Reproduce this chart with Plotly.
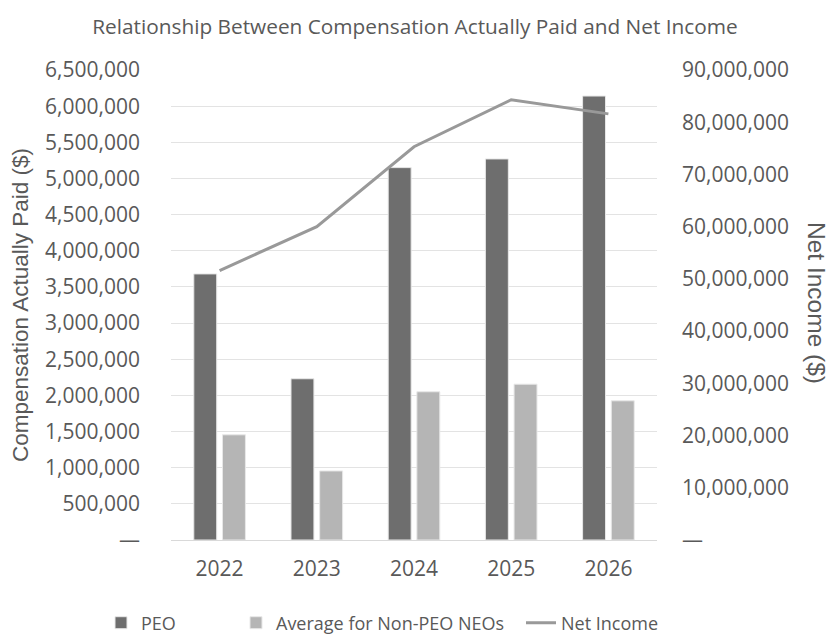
import plotly.graph_objects as go

years = ["2022", "2023", "2024", "2025", "2026"]
peo_cap = [3680000, 2230000, 5150000, 5270000, 6140000]
non_peo_cap = [1455000, 955000, 2050000, 2155000, 1925000]
net_income = [51600000, 60000000, 75300000, 84300000, 81600000]

left_ticks = list(range(0, 6500001, 500000))
left_text = ["—" if v == 0 else f"{v:,}" for v in left_ticks]
right_ticks = list(range(0, 90000001, 10000000))
right_text = ["—" if v == 0 else f"{v:,}" for v in right_ticks]

GREY = "#595959"
tick_font = dict(family="Open Sans", size=21, color=GREY)
legend_font = dict(family="Open Sans", size=18, color=GREY)

fig = go.Figure()
fig.add_trace(go.Bar(x=years, y=peo_cap, name="PEO", legend="legend",
                     marker=dict(color="#6e6e6e", line=dict(color="#e8e8e8", width=1))))
fig.add_trace(go.Bar(x=years, y=non_peo_cap, name="Average for Non-PEO NEOs", legend="legend2",
                     marker=dict(color="#b5b5b5", line=dict(color="#e8e8e8", width=1))))
fig.add_trace(go.Scatter(x=years, y=net_income, name="Net Income", yaxis="y2", legend="legend3",
                         mode="lines", line=dict(color="#999999", width=3)))

leg_common = dict(orientation="h", yref="container", y=(638 - 623) / 638, yanchor="middle",
                  xref="container", xanchor="left", font=legend_font, bgcolor="rgba(0,0,0,0)")

fig.update_layout(
    width=830, height=638,
    paper_bgcolor="white", plot_bgcolor="white",
    margin=dict(l=171, r=173, t=70, b=98, autoexpand=False),
    barmode="group", bargap=0.41, bargroupgap=0.2,
    title=dict(text="Relationship Between Compensation Actually Paid and Net Income",
               x=0.5, xanchor="center", y=0.958, yanchor="middle",
               font=dict(family="Open Sans", size=20.8, color=GREY)),
    xaxis=dict(showgrid=False, showline=True, linecolor="#d9d9d9", linewidth=1,
               tickfont=tick_font, ticks="", ticklabelstandoff=10),
    yaxis=dict(range=[0, 6500000], tickvals=left_ticks, ticktext=left_text,
               showgrid=True, gridcolor="#e3e3e3", gridwidth=1, zeroline=False,
               tickfont=tick_font, ticks="", ticklabelstandoff=30,
               title=dict(text="Compensation Actually Paid ($)", standoff=10,
                          font=dict(family="Liberation Sans", size=22.5, color=GREY))),
    yaxis2=dict(range=[0, 90000000], tickvals=right_ticks, ticktext=right_text,
                overlaying="y", side="right", showgrid=False, zeroline=False,
                tickfont=tick_font, ticks="", ticklabelstandoff=24),
    legend=dict(x=101 / 830, **leg_common),
    legend2=dict(x=236 / 830, **leg_common),
    legend3=dict(x=521 / 830, **leg_common),
    showlegend=True,
    annotations=[dict(text="Net Income ($)", textangle=90, xref="paper", yref="paper",
                      x=(817 - 171) / 486, y=(540 - 303) / 470, xanchor="center", yanchor="middle",
                      showarrow=False,
                      font=dict(family="Liberation Sans", size=24.5, color=GREY))],
)

fig.write_html("out.html")
